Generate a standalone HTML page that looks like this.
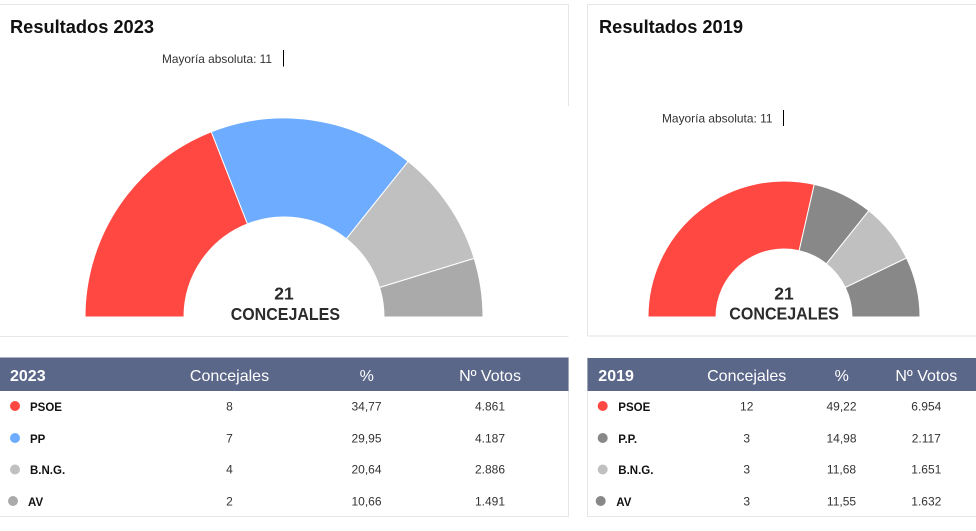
<!DOCTYPE html>
<html><head><meta charset="utf-8"><style>
html,body{margin:0;padding:0;background:#fff;width:976px;height:531px;overflow:hidden}
svg{display:block}
text{font-family:"Liberation Sans",sans-serif}
</style></head><body>
<svg width="976" height="531" viewBox="0 0 976 531" xmlns="http://www.w3.org/2000/svg">
<rect width="976" height="531" fill="#fff"/>
<!-- card borders -->
<g stroke="#e6e6e6" stroke-width="1" fill="none">
<line x1="0" y1="4.5" x2="568.5" y2="4.5"/>
<line x1="568.5" y1="4.5" x2="568.5" y2="106"/>
<line x1="0" y1="336.5" x2="568.5" y2="336.5"/>
<line x1="587.5" y1="4.5" x2="976" y2="4.5"/>
<line x1="587.5" y1="4.5" x2="587.5" y2="336"/>
<line x1="587.5" y1="336" x2="976" y2="336"/>
<!-- table borders -->
<line x1="568.5" y1="357" x2="568.5" y2="517"/>
<line x1="0" y1="516.5" x2="568.5" y2="516.5"/>
<line x1="587.5" y1="357" x2="587.5" y2="517"/>
<line x1="587.5" y1="516.5" x2="976" y2="516.5"/>
</g>

<!-- titles -->
<text x="10" y="33" font-size="18.5" font-weight="bold" fill="#111" textLength="144" lengthAdjust="spacingAndGlyphs">Resultados 2023</text>
<text x="599" y="33" font-size="18.5" font-weight="bold" fill="#111" textLength="144" lengthAdjust="spacingAndGlyphs">Resultados 2019</text>

<!-- mayoria -->
<text x="162" y="63" font-size="12" fill="#333" textLength="110" lengthAdjust="spacingAndGlyphs">Mayoría absoluta: 11</text>
<line x1="283.5" y1="50" x2="283.5" y2="66.5" stroke="#000" stroke-width="1"/>
<text x="662" y="122.5" font-size="12" fill="#333" textLength="110.5" lengthAdjust="spacingAndGlyphs">Mayoría absoluta: 11</text>
<line x1="783.5" y1="110" x2="783.5" y2="126" stroke="#000" stroke-width="1"/>

<!-- left donut -->
<g stroke="#fff" stroke-width="1">
<path d="M85,317 A199,199 0 0 1 211.30,131.76 L247.47,223.91 A100,100 0 0 0 184,317 Z" fill="#FF4842"/>
<path d="M211.30,131.76 A199,199 0 0 1 408.07,161.42 L346.35,238.82 A100,100 0 0 0 247.47,223.91 Z" fill="#6EACFF"/>
<path d="M408.07,161.42 A199,199 0 0 1 474.16,258.34 L379.56,287.52 A100,100 0 0 0 346.35,238.82 Z" fill="#C0C0C0"/>
<path d="M474.16,258.34 A199,199 0 0 1 483,317 L384,317 A100,100 0 0 0 379.56,287.52 Z" fill="#AAAAAA"/>
</g>
<text x="284" y="299.3" font-size="17.5" font-weight="bold" fill="#2b2b2b" text-anchor="middle">21</text>
<text x="230.7" y="320" font-size="17.5" font-weight="bold" fill="#2b2b2b" textLength="109.3" lengthAdjust="spacingAndGlyphs">CONCEJALES</text>

<!-- right donut -->
<g stroke="#fff" stroke-width="1">
<path d="M648,317 A136,136 0 0 1 814.26,184.41 L799.13,250.70 A68,68 0 0 0 716,317 Z" fill="#FF4842"/>
<path d="M814.26,184.41 A136,136 0 0 1 868.79,210.67 L826.40,263.84 A68,68 0 0 0 799.13,250.70 Z" fill="#888888"/>
<path d="M868.79,210.67 A136,136 0 0 1 906.53,257.99 L845.27,287.50 A68,68 0 0 0 826.40,263.84 Z" fill="#C0C0C0"/>
<path d="M906.53,257.99 A136,136 0 0 1 920,317 L852,317 A68,68 0 0 0 845.27,287.50 Z" fill="#888888"/>
</g>
<text x="784" y="299.3" font-size="17.5" font-weight="bold" fill="#2b2b2b" text-anchor="middle">21</text>
<text x="729.3" y="319.5" font-size="17.5" font-weight="bold" fill="#2b2b2b" textLength="109.7" lengthAdjust="spacingAndGlyphs">CONCEJALES</text>

<!-- left table -->
<rect x="0" y="357.5" width="568.5" height="33.5" fill="#5B6789"/>
<text x="10" y="381" font-size="16" font-weight="bold" fill="#fff">2023</text>
<g font-size="16" fill="#fff" text-anchor="middle">
<text x="229.5" y="381">Concejales</text>
<text x="366.7" y="381">%</text>
<text x="490" y="381">Nº Votos</text>
</g>
<circle cx="15" cy="406" r="5" fill="#FF4842"/>
<circle cx="15" cy="438" r="5" fill="#6EACFF"/>
<circle cx="15" cy="469.5" r="5" fill="#C0C0C0"/>
<circle cx="13" cy="501" r="5" fill="#AAAAAA"/>
<g font-size="11.5" font-weight="bold" fill="#111">
<text x="30" y="411">PSOE</text>
<text x="30" y="443">PP</text>
<text x="30" y="474">B.N.G.</text>
<text x="28" y="506">AV</text>
</g>
<g font-size="12" fill="#333" text-anchor="middle">
<text x="229.5" y="410.7">8</text><text x="366.5" y="410.7">34,77</text><text x="490" y="410.7">4.861</text>
<text x="229.5" y="442.7">7</text><text x="366.5" y="442.7">29,95</text><text x="490" y="442.7">4.187</text>
<text x="229.5" y="473.5">4</text><text x="366.5" y="473.5">20,64</text><text x="490" y="473.5">2.886</text>
<text x="229.5" y="505.3">2</text><text x="366.5" y="505.3">10,66</text><text x="490" y="505.3">1.491</text>
</g>

<!-- right table -->
<rect x="587.5" y="358" width="388.5" height="33" fill="#5B6789"/>
<text x="598.3" y="381" font-size="16" font-weight="bold" fill="#fff">2019</text>
<g font-size="16" fill="#fff" text-anchor="middle">
<text x="746.7" y="381">Concejales</text>
<text x="841.7" y="381">%</text>
<text x="926.3" y="381">Nº Votos</text>
</g>
<circle cx="602.7" cy="406" r="5" fill="#FF4842"/>
<circle cx="602.7" cy="438" r="5" fill="#888888"/>
<circle cx="602.7" cy="469.5" r="5" fill="#C0C0C0"/>
<circle cx="600.7" cy="501" r="5" fill="#888888"/>
<g font-size="11.5" font-weight="bold" fill="#111">
<text x="618.3" y="411">PSOE</text>
<text x="618.3" y="443">P.P.</text>
<text x="618.3" y="474">B.N.G.</text>
<text x="616.3" y="506">AV</text>
</g>
<g font-size="12" fill="#333" text-anchor="middle">
<text x="746.7" y="410.7">12</text><text x="841.5" y="410.7">49,22</text><text x="926.3" y="410.7">6.954</text>
<text x="746.7" y="442.7">3</text><text x="841.5" y="442.7">14,98</text><text x="926.3" y="442.7">2.117</text>
<text x="746.7" y="473.5">3</text><text x="841.5" y="473.5">11,68</text><text x="926.3" y="473.5">1.651</text>
<text x="746.7" y="505.3">3</text><text x="841.5" y="505.3">11,55</text><text x="926.3" y="505.3">1.632</text>
</g>
</svg>
</body></html>
